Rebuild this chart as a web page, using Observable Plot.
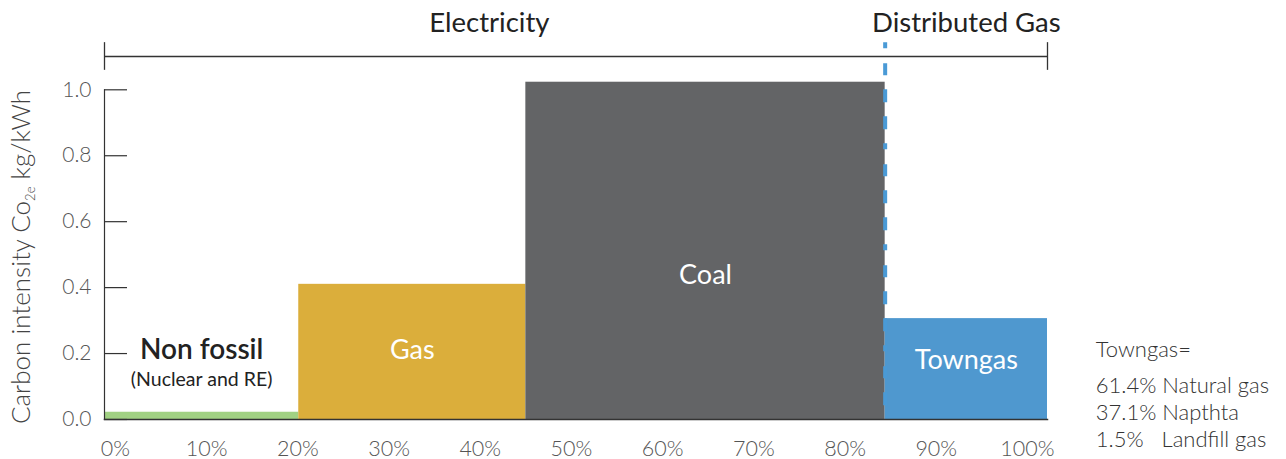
<!DOCTYPE html>
<html>
<head>
<meta charset="utf-8">
<script src="https://cdn.jsdelivr.net/npm/d3@7"></script>
<script src="https://cdn.jsdelivr.net/npm/@observablehq/plot@0.6"></script>
<style>
  html, body { margin: 0; padding: 0; background: #fff; }
  svg text { white-space: pre; }
</style>
</head>
<body>
<div id="chart"></div>
<script>
// ---- data ----
const categories = ["Non fossil", "Gas", "Coal", "Towngas"];
const shareStart = [-1.2, 20.1, 45.0, 84.4];   // x position (% of energy) where each block starts
const shareEnd   = [20.1, 45.0, 84.4, 102.2];  // x position where each block ends
const intensity  = [0.022, 0.41, 1.023, 0.306]; // kg CO2e / kWh
const barColors  = ["#a1d183", "#dbae3b", "#636466", "#4f98cf"];

const xTicks = [0, 10, 20, 30, 40, 50, 60, 70, 80, 90, 100];
const yTicks = [0, 0.2, 0.4, 0.6, 0.8, 1.0];

const groupNames = ["Electricity", "Distributed Gas"];
const groupStart = [-1.2, 84.4];
const groupEnd   = [84.4, 102.2];

const noteTitle = "Towngas=";
const noteLines = ["61.4% Natural gas", "37.1% Napthta", "1.5%\u00a0\u00a0\u00a0Landfill gas"];

// ---- tables built from the arrays ----
const bars = categories.map((c, i) => ({category: c, start: shareStart[i], end: shareEnd[i], value: intensity[i]}));
const groupLabelX = [41.0, 93.3];
const groups = groupNames.map((g, i) => ({name: g, x: groupLabelX[i]}));
const xDomain = [shareStart[0], shareEnd[shareEnd.length - 1]];
const mid = i => (bars[i].start + bars[i].end) / 2;

// label anchor positions (data units)
const whiteLabels = [
  {text: "Gas", x: mid(1), y: 0.182},
  {text: "Coal", x: mid(2), y: 0.41},
  {text: "Towngas", x: mid(3), y: 0.152}
];

const chart = Plot.plot({
  width: 1286,
  height: 459,
  marginLeft: 104,
  marginRight: 239,
  marginTop: 89.3,
  marginBottom: 40,
  x: {domain: xDomain},
  y: {domain: [0, 1]},
  color: {domain: categories, range: barColors},
  style: {fontFamily: "Lato", fontSize: "20px", fontWeight: 300, color: "#555", background: "#fff", overflow: "visible"},
  marks: [
    Plot.rect(bars, {x1: "start", x2: "end", y1: 0, y2: "value", fill: "category"}),
    Plot.frame({anchor: "left", stroke: "#333", strokeWidth: 1.2}),
    Plot.frame({anchor: "bottom", stroke: "#333", strokeWidth: 1.5}),
    Plot.tickY(yTicks, {y: d => d, stroke: "#333", strokeWidth: 1.2, insetRight: 943 - 23}),
    Plot.axisY({ticks: yTicks, tickSize: 0, tickPadding: 13, tickFormat: d3.format(".1f"), label: null, fontSize: 21, fill: "#555"}),
    Plot.axisX({ticks: xTicks, tickSize: 0, tickPadding: 21, tickFormat: d => d + "%", label: null, fontSize: 21.5, fill: "#555"}),
    // bracket above
    Plot.ruleY([1.101], {stroke: "#333", strokeWidth: 1.3}),
    Plot.ruleX(xDomain, {y1: 1.059, y2: 1.143, stroke: "#333", strokeWidth: 1.3}),
    // dashed divider between electricity and distributed gas
    Plot.ruleX([groupEnd[0]], {y1: 1.143, y2: 0, stroke: "#4a9ad6", strokeWidth: 4, strokeDasharray: "6,15,12,14,13,14,13,14"}),
    Plot.text(groups, {x: "x", y: 1.174, text: "name", lineAnchor: "bottom", fontSize: 27.5, fontWeight: 400, fill: "#222"}),
    Plot.text(["Non fossil"], {x: mid(0), y: 0.185, text: d => d, lineAnchor: "bottom", fontSize: 28, fontWeight: 600, fill: "#222"}),
    Plot.text(["(Nuclear and RE)"], {x: mid(0), y: 0.103, text: d => d, lineAnchor: "bottom", fontSize: 19.5, fontWeight: 400, fill: "#222"}),
    Plot.text(whiteLabels, {x: "x", y: "y", text: "text", lineAnchor: "bottom", fontSize: 27, fontWeight: 400, fill: "#fff"}),
    Plot.text([noteTitle], {x: 107.5, y: 0.191, text: d => d, lineAnchor: "bottom", textAnchor: "start", fontSize: 22, fontWeight: 300, fill: "#333"}),
    Plot.text([noteLines.join("\n")], {x: 107.5, y: 0.082, text: d => d, lineAnchor: "top", dy: -19, textAnchor: "start", fontSize: 22, lineHeight: 1.24, fontWeight: 300, fill: "#333"})
  ]
});

document.getElementById("chart").appendChild(chart);

// rotated y-axis title with subscript
const t = d3.select(chart).append("text")
  .attr("transform", "translate(30,257) rotate(-90)")
  .attr("text-anchor", "middle")
  .attr("font-family", "Lato")
  .attr("font-weight", 300)
  .attr("font-size", 26)
  .attr("fill", "#444");
t.append("tspan").text("Carbon intensity Co");
t.append("tspan").attr("font-size", 13).attr("dy", 5).text("2e");
t.append("tspan").attr("dy", -5).text(" kg/kWh");
</script>
</body>
</html>
